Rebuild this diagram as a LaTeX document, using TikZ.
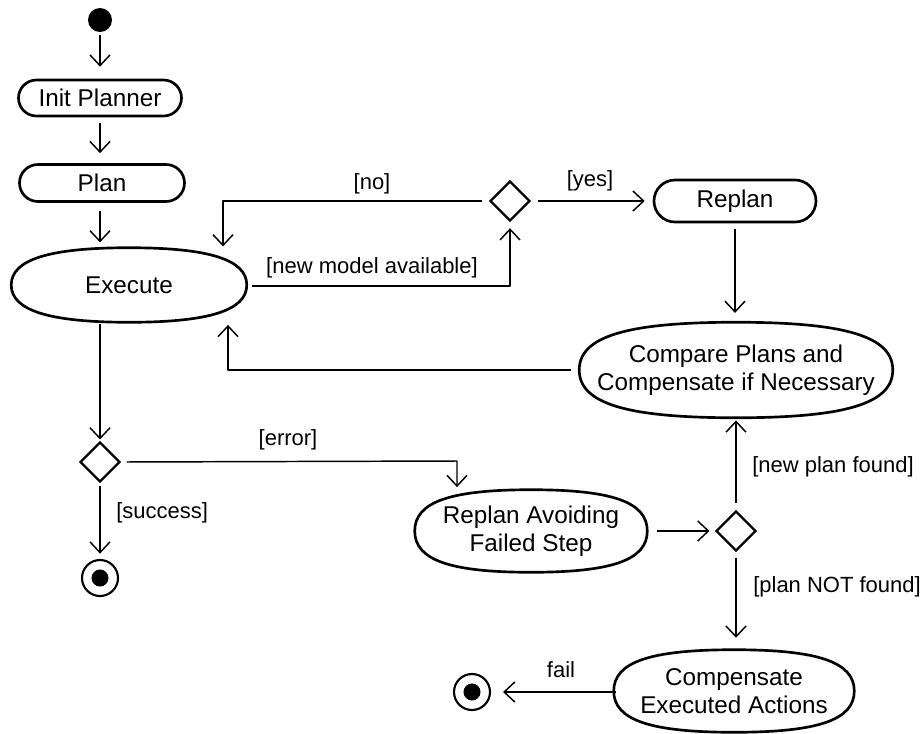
\documentclass[tikz,border=0pt]{standalone}
\usepackage{fontspec}
\setmainfont{Liberation Sans}
\usetikzlibrary{arrows.meta,shapes.geometric,calc}
\newcommand\blobshape[2]{%
  \draw[line width=2pt,line join=round]
    (#1.east) .. controls ($(#1.east)!#2!(#1.north east)$) and ($(#1.north)!#2!(#1.north east)$) .. (#1.north)
    .. controls ($(#1.north)!#2!(#1.north west)$) and ($(#1.west)!#2!(#1.north west)$) .. (#1.west)
    .. controls ($(#1.west)!#2!(#1.south west)$) and ($(#1.south)!#2!(#1.south west)$) .. (#1.south)
    .. controls ($(#1.south)!#2!(#1.south east)$) and ($(#1.east)!#2!(#1.south east)$) .. (#1.east) -- cycle;}
\begin{document}
\begin{tikzpicture}[x=0.75pt,y=-0.75pt,
  act/.style={draw,line width=2pt,rectangle,inner sep=0pt,align=center,
    font=\fontsize{18.2}{21}\selectfont},
  bigact/.style={rectangle,inner sep=0pt,align=center,
    font=\fontsize{18.2}{21}\selectfont},
  dec/.style={draw,diamond,line width=1.8pt,inner sep=0pt,minimum width=30pt,minimum height=30pt},
  startnode/.style={circle,fill=black,inner sep=0pt,minimum size=18pt},
  finalnode/.style={circle,draw,line width=1.6pt,inner sep=0pt,minimum size=27pt,
    path picture={\fill (path picture bounding box.center) circle (6.4pt);}},
  arr/.style={line width=1.1pt,line join=round,
    -{Straight Barb[length=8pt,width=15pt,line width=1.1pt]}},
  lbl/.style={font=\fontsize{16.5}{19}\selectfont,inner sep=0pt}
]
\useasboundingbox (0,0) rectangle (922,733);

% nodes
\node[startnode] (s) at (100,20) {};
\node[act,minimum width=122.25pt,minimum height=27pt,rounded corners=13.5pt] (init) at (100,98) {Init Planner};
\node[act,minimum width=123.75pt,minimum height=27.75pt,rounded corners=13.87pt] (plan) at (102,183) {Plan};
\node[bigact,minimum width=176.25pt,minimum height=55.5pt] (ex) at (129,285) {Execute};
\node[dec] (d1) at (510,201) {};
\node[act,minimum width=121.5pt,minimum height=31.5pt,rounded corners=15.75pt] (rp) at (735,201) {Replan};
\node[bigact,minimum width=234.75pt,minimum height=71.25pt] (cmp) at (736,370) {Compare Plans and\\Compensate if Necessary};
\node[dec] (d2) at (100,462) {};
\node[finalnode] (f1) at (100,578) {};
\node[bigact,minimum width=174pt,minimum height=61.5pt] (rafs) at (531,531) {Replan Avoiding\\Failed Step};
\node[dec] (d3) at (736,531) {};
\node[bigact,minimum width=180pt,minimum height=61.5pt] (comp) at (734,691) {Compensate\\Executed Actions};
\node[finalnode] (f2) at (472,692) {};

\blobshape{ex}{0.68}
\blobshape{cmp}{0.7}
\blobshape{rafs}{0.7}
\blobshape{comp}{0.7}

% bend points
\coordinate (cno) at (223,201);
\coordinate (cnm) at (510,286);
\coordinate (ccmp) at (228,370);
\coordinate (cerr) at (457,461);

% connectors
\draw[arr,shorten <=2pt,shorten >=9pt] (s) -- (init);
\draw[arr,shorten <=4.5pt,shorten >=7.5pt] (init.south) -- (init.south |- plan.north);
\draw[arr,shorten <=6pt,shorten >=4pt] (init.south |- plan.south) -- (init.south |- ex.north);
\draw[arr,shorten <=5pt,shorten >=1pt] (d1.west) -- (cno) -- (ex.north -| cno);
\draw[arr,shorten <=4pt,shorten >=4.5pt] (ex.east |- cnm) -- (cnm) -- (d1.south);
\draw[arr,shorten <=5pt,shorten >=6pt] (d1.east) -- (rp.west);
\draw[arr,shorten <=4.5pt,shorten >=7pt] (rp.south) -- (rp.south |- cmp.north);
\draw[arr,shorten <=6pt,shorten >=2pt] (cmp.west) -- (ccmp) -- (ex.south -| ccmp);
\draw[arr,shorten <=1pt,shorten >=1pt] (ex.south -| d2) -- (d2.north);
\draw[arr,shorten <=2pt,shorten >=4pt] (d2.south) -- (f1.north);
\draw[arr,shorten <=4pt,shorten >=2pt] (d2.east) -- (cerr) -- (rafs.north -| cerr);
\draw[arr,shorten <=7pt,shorten >=4pt] (rafs.east) -- (d3.west);
\draw[arr,shorten <=5pt,shorten >=2pt] (d3.north) -- (cmp.south);
\draw[arr,shorten <=4pt,shorten >=9pt] (d3.south) -- (d3.south |- comp.north);
\draw[arr,shorten <=-2pt,shorten >=9pt] (comp.west |- f2) -- (f2.east);

% labels
\node[lbl] (lno) at (372,184) {[no]};
\node[lbl] (lnm) at (372,268) {[new model available]};
\node[lbl] (lyes) at (590,181) {[yes]};
\node[lbl] (lerr) at (288,440) {[error]};
\node[lbl,anchor=west] (lsucc) at (116,513) {[success]};
\node[lbl,anchor=west] (lnpf) at (752,467) {[new plan found]};
\node[lbl,anchor=west] (lnotf) at (753,587) {[plan NOT found]};
\node[lbl] (lfail) at (561,670) {fail};
\end{tikzpicture}
\end{document}
